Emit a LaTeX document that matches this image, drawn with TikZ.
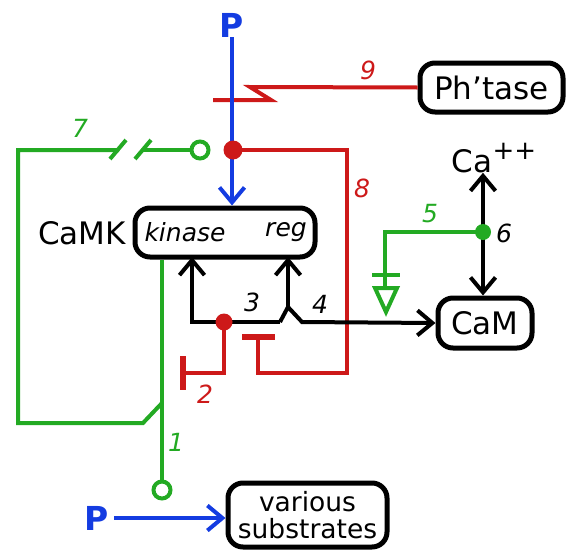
\documentclass[tikz,border=0pt]{standalone}
\usepackage{fontspec}
\setmainfont{DejaVu Sans}
\usetikzlibrary{arrows.meta}
\definecolor{cblue}{RGB}{20,60,225}
\definecolor{cred}{RGB}{205,25,25}
\definecolor{cgreen}{RGB}{35,170,35}
\tikzset{
  box/.style={draw=black, line width=5pt, rounded corners=15pt, inner sep=0pt, font=\fontsize{31}{34}\selectfont, align=center},
  lbl/.style={inner sep=0pt, font=\fontsize{25}{26}\selectfont\itshape},
  big/.style={inner sep=0pt, font=\fontsize{31}{34}\selectfont},
  ln/.style={line width=4pt},
  barb/.style={-{Straight Barb[length=15pt,width=25pt]}},
  bbarb/.style={{Straight Barb[length=15pt,width=25pt]}-{Straight Barb[length=15pt,width=25pt]}},
  bar/.style={line width=6.5pt},
}
\begin{document}
\begin{tikzpicture}[x=1pt,y=-1pt]
\useasboundingbox (0,0) rectangle (567,549);
% boxes
\node[box, minimum width=180pt, minimum height=49pt] (camk) at (225,232.5) {};
\node[lbl, font=\fontsize{25}{26}\selectfont\itshape] (kin) at (185,232) {kinase};
\node[lbl, font=\fontsize{25}{26}\selectfont\itshape] (reg) at (286,232) {reg};
\node[big, anchor=east] (camklbl) at (126,233) {CaMK};
\node[box, minimum width=143pt, minimum height=49pt] (ph) at (491.5,87.5) {Ph’tase};
\node[box, minimum width=94pt, minimum height=50pt] (cam) at (485,323) {CaM};
\node[box, minimum width=159pt, minimum height=64pt, font=\fontsize{26.5}{31}\selectfont] (sub) at (307.5,515) {various\\[-4pt]substrates};
\node[big] (ca) at (494,158) {Ca\raisebox{0.40em}{\fontsize{26}{26}\selectfont ++}};
\node[big, text=cblue, font=\fontsize{33}{33}\selectfont\bfseries] (ptop) at (232,25) {P};
\node[big, text=cblue, font=\fontsize{33}{33}\selectfont\bfseries] (pbot) at (97,518) {P};

% coordinates
\coordinate (rdot) at (233,150);
\coordinate (rdot2) at (224,322);
\coordinate (gdot) at (483,232);
\coordinate (gcirc) at (200,150);
\coordinate (gcirc2) at (162,490);

% red 9 (phosphatase)
\draw[cred, ln, line join=miter] (ph.west) -- (250,87) -- (271,100) -- (213,100);
% red 8
\draw[cred, ln] (rdot) -- (347,150) -- (347,373) -- (258,373) -- (258,337);
\draw[cred, bar] (242,337) -- (275,337);
% red 2
\draw[cred, ln] (rdot2) -- (224,373) -- (183,373);
\draw[cred, bar] (183,356) -- (183,390);

% green 7 feedback
\draw[cgreen, ln] (162,403) -- (143,423) -- (18,423) -- (18,150) -- (119,150);
\draw[cgreen, ln] (110,159) -- (126,140);
\draw[cgreen, ln] (135,159) -- (151,140);
\draw[cgreen, ln] (143,150) -- (191.5,150);
\draw[cgreen, ln, fill=white] (gcirc) circle (8.5pt);
% green 1
\draw[cgreen, ln] (kin.south |- camk.south) ++(-23,0) -- (162,481.5);
\draw[cgreen, ln, fill=white] (gcirc2) circle (8.5pt);
% green 5
\draw[cgreen, ln] (gdot) -- (385,232) -- (385,288);
\draw[cgreen, ln] (372,275) -- (400,275);
\draw[cgreen, ln, line join=miter] (375,288) -- (397,288) -- (386,312) -- cycle;

% black 3 / 4
\coordinate (ka) at (192,257);
\coordinate (ra) at (288,257);
\draw[ln, barb] (280,322) -- (192,322) -- (ka);
\draw[ln, barb] (288,307) -- (ra);
\draw[ln, barb, line join=miter] (280,322) -- (288,307) -- (302,322) -- (cam.west);
% black 6
\draw[ln, bbarb] (ca.south -| gdot) -- (cam.north -| gdot);

% blue
\draw[cblue, ln, barb] (ptop.south) -- (camk.north -| ptop);
\draw[cblue, ln, barb] (pbot.east) ++(5,0) -- (sub.west |- pbot);

% dots
\fill[cred] (rdot) circle (9.5pt);
\fill[cred] (rdot2) circle (8.5pt);
\fill[cgreen] (gdot) circle (8pt);

% labels
\node[lbl, text=cgreen] (l7) at (80,128) {7};
\node[lbl, text=cred] (l9) at (368,70) {9};
\node[lbl, text=cred] (l8) at (362,188) {8};
\node[lbl, text=cgreen] (l5) at (430,214) {5};
\node[lbl] (l6) at (504,233) {6};
\node[lbl] (l3) at (252,302) {3};
\node[lbl] (l4) at (320,304) {4};
\node[lbl, text=cred] (l2) at (205,394) {2};
\node[lbl, text=cgreen] (l1) at (176,442) {1};
\end{tikzpicture}
\end{document}
